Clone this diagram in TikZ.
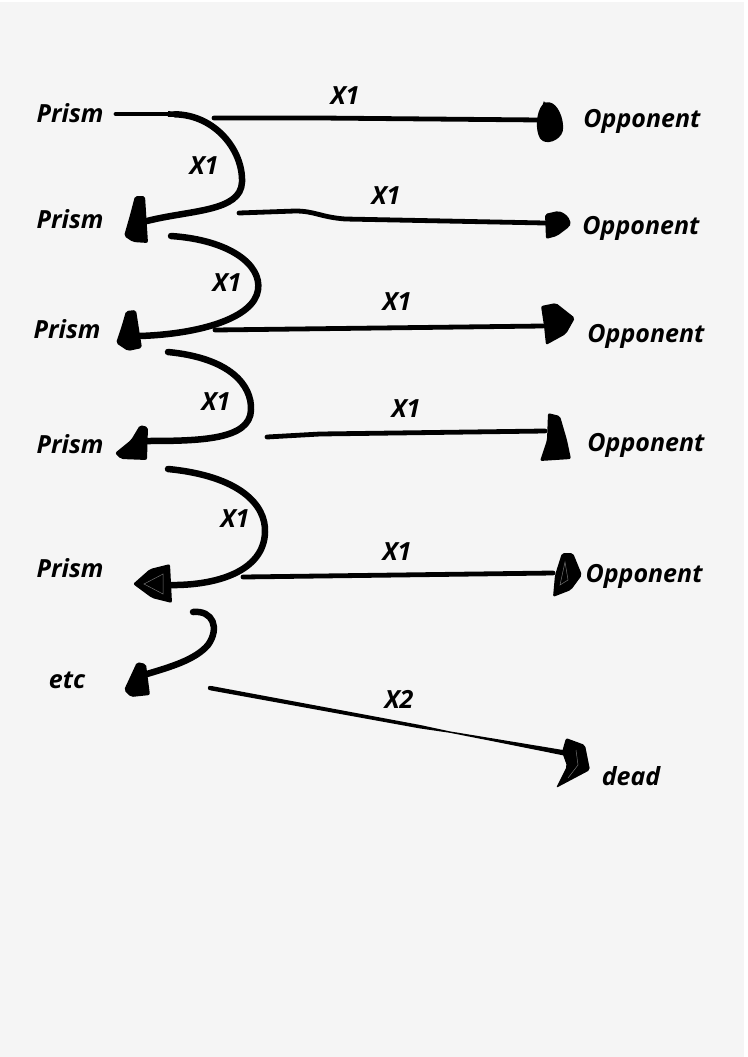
\documentclass[tikz,border=0pt]{standalone}
\usepackage{fontspec}
\setmainfont{Open Sans}
\begin{document}
\begin{tikzpicture}[x=1pt,y=-1pt,
  lbl/.style={font=\fontsize{25}{28}\selectfont\bfseries\itshape, anchor=base, inner sep=0pt},
  curve/.style={line width=6.5pt, line cap=round, line join=round},
  straight/.style={line width=4.8pt, line cap=round, line join=round},
  blob/.style={fill=black, rounded corners=2pt}]
\fill[white] (0,0) rectangle (747,1057);
\fill[black!4] (0,2) rectangle (744,1057);
\useasboundingbox (0,0) rectangle (747,1057);

% text nodes
\node[lbl] (pr1) at (70,122) {Prism};
\node[lbl] (pr2) at (70,228) {Prism};
\node[lbl] (pr3) at (67,338) {Prism};
\node[lbl] (pr4) at (70,453) {Prism};
\node[lbl] (pr5) at (70,577) {Prism};
\node[lbl] (etc) at (67,688) {etc};
\node[lbl] (op1) at (642,127) {Opponent};
\node[lbl] (op2) at (641,234) {Opponent};
\node[lbl] (op3) at (646,342) {Opponent};
\node[lbl] (op4) at (646,451) {Opponent};
\node[lbl] (op5) at (644,582) {Opponent};
\node[lbl] (dead) at (631,785) {dead};
% edge labels
\node[lbl] (h1) at (345,104) {X1};
\node[lbl] (h2) at (386,204) {X1};
\node[lbl] (h3) at (397,310) {X1};
\node[lbl] (h4) at (406,417) {X1};
\node[lbl] (h5) at (397,560) {X1};
\node[lbl] (h6) at (399,708) {X2};
\node[lbl] (c1) at (204,174) {X1};
\node[lbl] (c2) at (227,291) {X1};
\node[lbl] (c3) at (216,410) {X1};
\node[lbl] (c4) at (235,527) {X1};

% connector end points
\coordinate (s1) at (116,114);
\coordinate (e1) at (147,221);
\coordinate (s2) at (171,236);
\coordinate (e2) at (140,336);
\coordinate (s3) at (168,352);
\coordinate (e3) at (145,441);
\coordinate (s4) at (168,469);
\coordinate (e4) at (168,585);
\coordinate (s5) at (193,612);
\coordinate (e5) at (147,674);
\coordinate (a1) at (214,118);  \coordinate (b1) at (540,120);
\coordinate (a2) at (239,213);  \coordinate (b2) at (545,223);
\coordinate (a3) at (215,330);  \coordinate (b3) at (543,326);
\coordinate (a4) at (267,437);  \coordinate (b4) at (545,431);
\coordinate (a5) at (243,577);  \coordinate (b5) at (553,573);
\coordinate (a6) at (210,688);  \coordinate (b6) at (565,753);

% curved connectors (Prism to Prism)
\draw[line width=4.8pt, line cap=round] (s1) -- (170,114);
\draw[line width=5.6pt] (168,114) -- (176,114.2);
\draw[curve] (175,114.3) .. controls (215,115) and (243,150) .. (242,182)
  .. controls (241,212) and (190,210) .. (e1);
\draw[curve] (s2) .. controls (230,240) and (262,265) .. (258,290)
  .. controls (254,318) and (200,334) .. (e2);
\draw[curve] (s3) .. controls (230,358) and (252,385) .. (251,410)
  .. controls (250,440) and (200,441) .. (e3);
\draw[curve] (s4) .. controls (240,476) and (266,505) .. (265,532)
  .. controls (264,572) and (215,586) .. (e4);
\draw[curve] (s5) .. controls (213,610) and (220,628) .. (208,645)
  .. controls (195,660) and (170,667) .. (e5);

% straight connectors (Prism to Opponent)
\draw[straight] (a1) -- (320,118) -- (b1);
\draw[straight] (a2) -- (295,211) .. controls (315,211) and (320,217) .. (345,219) -- (b2);
\draw[straight] (a3) -- (b3);
\draw[straight] (a4) -- (320,434) -- (b4);
\draw[straight] (a5) -- (b5);
% tapered X2 line
\fill[rounded corners=1pt] (a6) ++(0.4,-2.2) -- (420.3,725.0) -- (450.1,731.4) -- (490.3,738.0)
  -- (565.5,750.4) -- (564.5,755.6) -- (489.7,740.6) -- (449.9,732.8) -- (419.7,728.4)
  -- (209.6,690.2) -- cycle;
\fill (a6) circle (2.2);

% arrow blobs at Prism ends
\fill[blob] (135,196) -- (145,196) -- (148,243) -- (133,242) -- (124,236) -- (130,215) -- cycle;
\fill[blob] (126,311) -- (136,310) -- (142,348) -- (128,351) -- (116,343) -- (122,325) -- cycle;
\fill[blob] (140,425) -- (148,427) -- (147,460) -- (121,459) -- (115,453) -- (131,440) -- cycle;
\fill[blob] (170,564) -- (172,603) -- (152,598) -- (133,584) -- (150,569) -- cycle;
\draw[black!55, line width=0.5pt] (163,574) -- (163,594) -- (144,584) -- cycle;
\fill[blob] (137,662) -- (146,664) -- (150,695) -- (131,697) -- (124,690) -- (131,675) -- cycle;

% arrow blobs at Opponent ends
\fill[blob] (544,103) .. controls (556,100) and (562,115) .. (563,125)
  .. controls (564,138) and (550,145) .. (541,140)
  .. controls (535,130) and (536,112) .. (544,103) -- cycle;
\fill[blob] (545,214) -- (558,211) .. controls (568,214) and (572,222) .. (569,227)
  -- (557,236) -- (546,239) -- cycle;
\fill[blob] (541,306) -- (556,303) -- (575,318) -- (566,334) -- (546,345) -- (544,326) -- cycle;
\fill[blob] (548,413) -- (560,416) -- (567,440) -- (571,459) -- (540,461) -- (547,440) -- cycle;
\fill[blob] (562,553) -- (573,553) -- (582,575) -- (571,590) -- (553,597) -- (555,575) -- cycle;
\draw[black!55, line width=0.5pt] (565,562) -- (560,585) -- (568,580) -- cycle;
\fill[blob] (566,738) -- (585,745) -- (590,770) -- (556,788) -- (567,766) -- (562,752) -- cycle;
\draw[black!55, line width=0.5pt] (576,750) -- (578,765) -- (568,778);
\end{tikzpicture}
\end{document}
